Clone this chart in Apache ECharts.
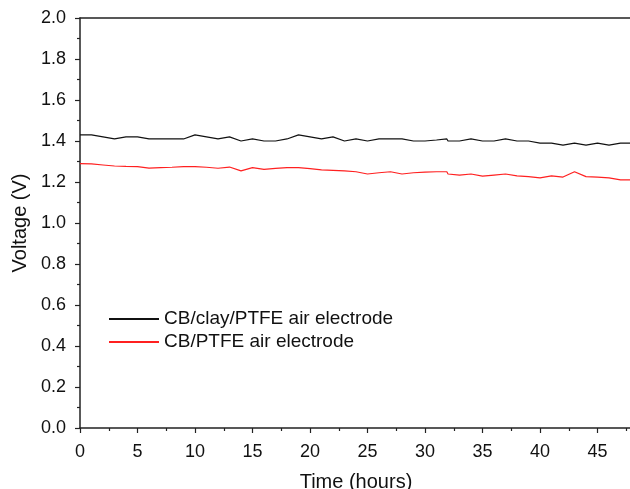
<!DOCTYPE html>
<html><head><meta charset="utf-8">
<script src="https://cdn.jsdelivr.net/npm/echarts@6/dist/echarts.min.js"></script>
<style>html,body{margin:0;padding:0;background:#fff}#c{width:630px;height:489px}</style>
</head><body><div id="c"></div>
<script>
const seriesNames = ['CB/clay/PTFE air electrode', 'CB/PTFE air electrode'];
const timeBlack = [0,1,2,3,4,5,6,7,8,9,10,11,12,13,14,15,16,17,18,19,20,21,22,23,24,25,26,27,28,29,30,31,31.9,32,33,34,35,36,37,38,39,40,41,42,43,44,45,46,47,48];
const voltBlack = [1.43,1.43,1.42,1.41,1.42,1.42,1.41,1.41,1.41,1.41,1.43,1.42,1.41,1.42,1.40,1.41,1.40,1.40,1.41,1.43,1.42,1.41,1.42,1.40,1.41,1.40,1.41,1.41,1.41,1.40,1.40,1.405,1.41,1.40,1.40,1.41,1.40,1.40,1.41,1.40,1.40,1.39,1.39,1.38,1.39,1.38,1.39,1.38,1.39,1.39];
const timeRed = [0,1,2,3,4,5,6,7,8,9,10,11,12,13,14,15,16,17,18,19,20,21,22,23,24,25,26,27,28,29,30,31,31.9,32,33,34,35,36,37,38,39,40,41,42,43,44,45,46,47,48];
const voltRed = [1.29,1.288,1.283,1.278,1.276,1.275,1.268,1.270,1.272,1.275,1.275,1.272,1.267,1.273,1.254,1.27,1.262,1.266,1.27,1.27,1.265,1.259,1.257,1.254,1.25,1.239,1.245,1.25,1.239,1.245,1.248,1.25,1.25,1.239,1.234,1.239,1.229,1.234,1.239,1.23,1.226,1.22,1.23,1.224,1.25,1.226,1.224,1.22,1.21,1.21];

const chart = echarts.init(document.getElementById('c'), null, {renderer:'canvas'});
const axisCol = '#222';
const font = 'Liberation Sans, Arial, sans-serif';
chart.setOption({
  animation:false,
  backgroundColor:'#fff',
  grid:{left:80, top:18, width:552, height:410, outerBoundsMode:'none', containLabel:false},
  legend:{
    orient:'vertical', left:103, top:303, itemWidth:50, itemHeight:14, itemGap:1,
    itemStyle:{opacity:0},
    textStyle:{fontFamily:font, fontSize:19, color:'#111', lineHeight:22},
    data: seriesNames
  },
  xAxis:[{
    type:'value', min:0, max:48, interval:5,
    name:'Time (hours)', nameLocation:'middle', nameGap:44,
    nameTextStyle:{fontFamily:font, fontSize:20, color:'#111'},
    axisLine:{show:true, lineStyle:{color:axisCol, width:1.5}},
    axisTick:{show:true, inside:false, length:5, lineStyle:{color:axisCol, width:1.2}},
    minorTick:{show:true, splitNumber:2, length:3, lineStyle:{color:axisCol, width:1.2}},
    axisLabel:{fontFamily:font, fontSize:18, color:'#111', margin:15,
      formatter:v => (v % 5 === 0 ? String(v) : '')},
    splitLine:{show:false}
  },{
    type:'value', min:0, max:48, position:'top',
    axisLine:{show:true, onZero:false, lineStyle:{color:axisCol, width:1.5}},
    axisTick:{show:false}, axisLabel:{show:false}, splitLine:{show:false}
  }],
  yAxis:{
    type:'value', min:0, max:2, interval:0.2,
    name:'Voltage (V)', nameLocation:'middle', nameGap:50,
    nameTextStyle:{fontFamily:font, fontSize:20, color:'#111'},
    axisLine:{show:true, lineStyle:{color:axisCol, width:1.5}},
    axisTick:{show:true, inside:false, length:5, lineStyle:{color:axisCol, width:1.2}},
    minorTick:{show:true, splitNumber:2, length:3, lineStyle:{color:axisCol, width:1.2}},
    axisLabel:{fontFamily:font, fontSize:18, color:'#111', margin:14,
      formatter:v => v.toFixed(1)},
    splitLine:{show:false}
  },
  series:[
    {name:seriesNames[0], type:'line', symbol:'none', data:timeBlack.map((t,i)=>[t,voltBlack[i]]),
     lineStyle:{color:'#111', width:1.2}, itemStyle:{color:'#111'}},
    {name:seriesNames[1], type:'line', symbol:'none', data:timeRed.map((t,i)=>[t,voltRed[i]]),
     lineStyle:{color:'#ff2020', width:1.2}, itemStyle:{color:'#ff2020'}}
  ]
});
</script></body></html>
